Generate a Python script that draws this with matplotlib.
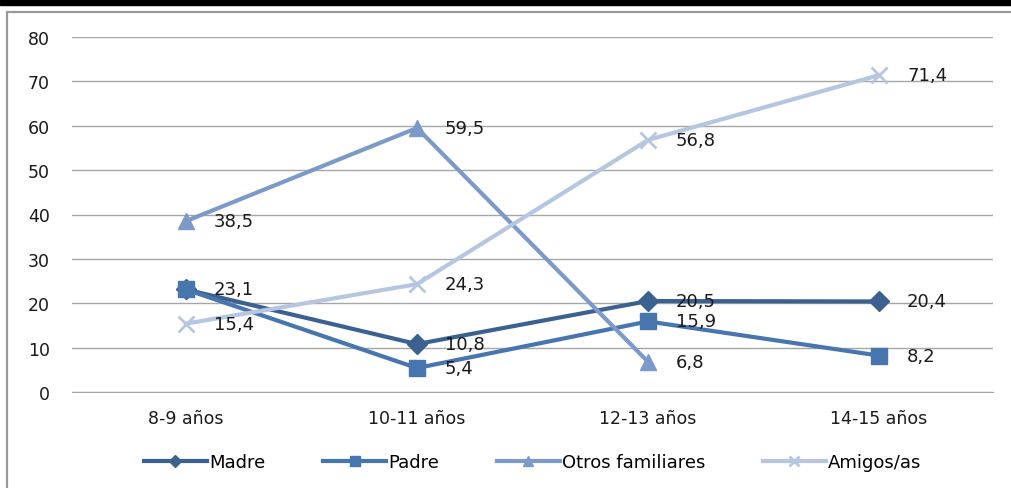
import numpy as np
import matplotlib.pyplot as plt
from matplotlib.patches import Rectangle

categories = ["8-9 años", "10-11 años", "12-13 años", "14-15 años"]
madre = [23.1, 10.8, 20.5, 20.4]
padre = [23.1, 5.4, 15.9, 8.2]
otros = [38.5, 59.5, 6.8, np.nan]
amigos = [15.4, 24.3, 56.8, 71.4]

series = [
    ("Madre", madre, "#3b6190", "D", 10),
    ("Padre", padre, "#4775ae", "s", 11),
    ("Otros familiares", otros, "#7b99c9", "^", 11),
    ("Amigos/as", amigos, "#b5c6e0", "x", 11),
]

fig = plt.figure(figsize=(10.11, 4.89), dpi=100)
# black band on top and gray frame
fig.patches.append(Rectangle((0, 1 - 6 / 489), 1, 6 / 489, transform=fig.transFigure,
                             color="black", zorder=0))
fig.patches.append(Rectangle((7 / 1011, -0.01), 1.1, 1 - 13 / 489 + 0.01, transform=fig.transFigure,
                             fill=False, edgecolor="#999999", linewidth=1.6, zorder=0))

ax = fig.add_axes([72 / 1011, 1 - 393 / 489, (993 - 72) / 1011, (393 - 38) / 489])
x = np.arange(len(categories))

for name, vals, col, mk, ms in series:
    v = np.array(vals, dtype=float)
    ax.plot(x, v, color=col, lw=3, marker=mk, ms=ms, mew=2 if mk == "x" else 1,
            label=name, zorder=3)
    for xi, yi in zip(x, v):
        if np.isnan(yi):
            continue
        if name == "Padre" and xi == 0:
            continue
        ax.annotate(f"{yi:.1f}".replace(".", ","), (xi, yi), xytext=(28, 0),
                    textcoords="offset pixels",
                    va="center", ha="left", fontsize=13, color="#1a1a1a", zorder=4)

ax.set_xlim(-0.493, 3.493)
ax.set_ylim(0, 80)
ax.set_yticks(range(0, 81, 10))
ax.set_xticks(x)
ax.set_xticklabels(categories)
ax.grid(axis="y", color="#a6a6a6", lw=1)
ax.set_axisbelow(True)
for s in ["top", "right", "left"]:
    ax.spines[s].set_visible(False)
ax.spines["bottom"].set_color("#a6a6a6")
ax.tick_params(axis="both", length=0, labelsize=12.5, colors="#1a1a1a")
ax.tick_params(axis="y", pad=16)
ax.tick_params(axis="x", pad=12)

ax.legend(loc="center", bbox_to_anchor=(0.5, -70 / 355),
          ncol=4, frameon=False, fontsize=13, handlelength=3.5, handletextpad=0.1,
          columnspacing=3.2, markerscale=0.6)

fig.savefig("out.png", dpi=100)
